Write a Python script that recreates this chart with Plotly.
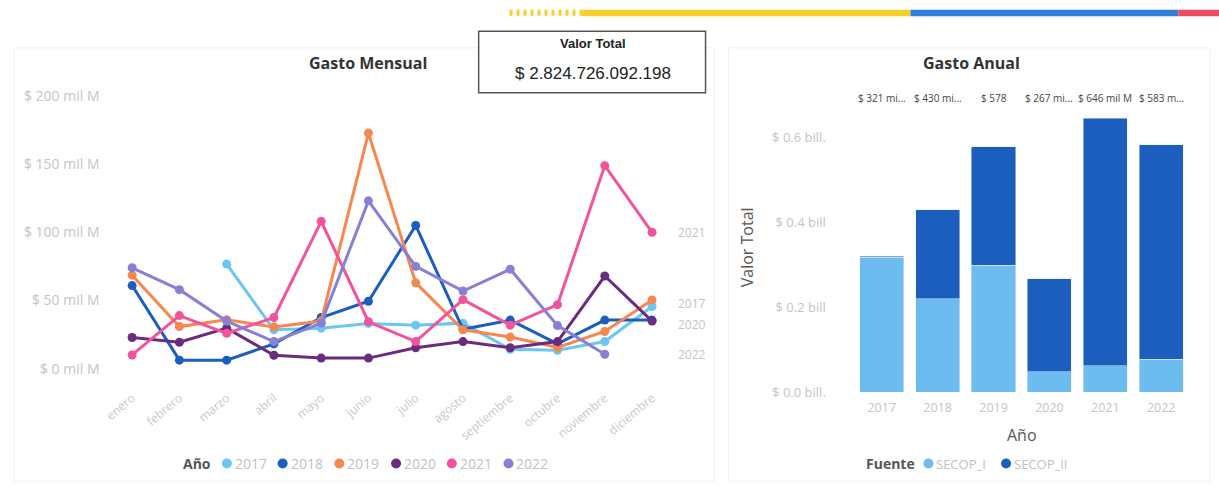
import plotly.graph_objects as go

W, H = 1219, 494

# ---------------- data ----------------
meses = ["enero", "febrero", "marzo", "abril", "mayo", "junio", "julio",
         "agosto", "septiembre", "octubre", "noviembre", "diciembre"]
anios = ["2017", "2018", "2019", "2020", "2021", "2022"]

# Gasto mensual (miles de millones)
v2017 = [None, None, 76.7, 28.6, 29.8, 33.3, 32.0, 33.5, 14.3, 13.6, 20.0, 45.7]
v2018 = [61.0, 6.4, 6.4, 18.3, 37.6, 49.5, 105.0, 29.0, 35.7, 18.3, 35.7, 35.7]
v2019 = [68.6, 31.0, 36.0, 30.7, 35.0, 172.6, 63.0, 28.6, 23.3, 15.7, 27.4, 50.5]
v2020 = [23.0, 19.5, 29.8, 10.0, 7.9, 7.9, 15.5, 20.0, 15.5, 20.0, 68.0, 35.0]
v2021 = [10.2, 39.0, 26.0, 37.6, 108.0, 34.5, 20.0, 50.7, 32.0, 47.0, 148.8, 100.0]
v2022 = [74.0, 58.0, 35.0, 20.0, 33.5, 123.0, 75.0, 57.0, 73.0, 31.7, 10.7, None]

y_ticks_m = [0, 50, 100, 150, 200]
y_text_m = ["$ 0 mil M", "$ 50 mil M", "$ 100 mil M", "$ 150 mil M", "$ 200 mil M"]

# Gasto anual por fuente (miles de millones)
secop_i = [318, 220, 299, 49, 63, 78]
secop_ii = [3, 210, 279, 218, 583, 505]
etiquetas_total = ["$ 321 mi...", "$ 430 mi...", "$ 578", "$ 267 mi...", "$ 646 mil M", "$ 583 m..."]
y_ticks_a = [0, 200, 400, 600]
y_text_a = ["$ 0.0 bill.", "$ 0.2 bill", "$ 0.4 bill", "$ 0.6 bill."]

valor_total = "$ 2.824.726.092.198"

# ---------------- styles ----------------
col_años = {"2017": "#6cc6f4", "2018": "#1b5ebf", "2019": "#f6884f",
            "2020": "#6a2c7f", "2021": "#f2549c", "2022": "#8780d6"}
col_i, col_ii = "#6cbcf0", "#1b5ebd"
FONT = "Open Sans"
GRAY = "#c4c4c4"


def px(x):
    return x / W


def py(y):
    return 1 - y / H


series = {"2017": v2017, "2018": v2018, "2019": v2019,
          "2020": v2020, "2021": v2021, "2022": v2022}

fig = go.Figure()
for a in anios:
    fig.add_trace(go.Scatter(
        x=meses, y=series[a], mode="lines+markers", name=a,
        line=dict(color=col_años[a], width=3),
        marker=dict(color=col_años[a], size=9),
        xaxis="x", yaxis="y", showlegend=False, cliponaxis=False))

fig.add_trace(go.Bar(x=anios, y=secop_i, name="SECOP_I", marker_color=col_i,
                     xaxis="x2", yaxis="y2", showlegend=False))
fig.add_trace(go.Bar(x=anios, y=secop_ii, name="SECOP_II", marker_color=col_ii,
                     xaxis="x2", yaxis="y2", showlegend=False))

# left axes: 0 -> y 375 px, 200 -> y 95 px
ymin, ymax = -8, 205
k = 1.4
fig.update_layout(
    xaxis=dict(domain=[px(103), px(673)], type="category", categoryorder="array",
               categoryarray=meses, range=[-0.5, 11.5], tickangle=-40,
               tickfont=dict(family=FONT, size=12, color="#c8c8c8"),
               showgrid=False, zeroline=False, showline=False, ticks="",
               ticklabelstandoff=8, anchor="y", fixedrange=True),
    yaxis=dict(domain=[py(375 - ymin * k), py(375 - ymax * k)], range=[ymin, ymax],
               tickvals=y_ticks_m, ticktext=y_text_m,
               tickfont=dict(family=FONT, size=14, color=GRAY),
               showgrid=False, zeroline=False, showline=False, ticks="",
               ticklabelstandoff=8, anchor="x"),
    xaxis2=dict(domain=[px(852), px(1189)], type="category", range=[-0.5, 5.5],
                tickfont=dict(family=FONT, size=12.5, color=GRAY),
                showgrid=False, zeroline=False, showline=False, ticks="",
                ticklabelstandoff=6, anchor="y2"),
    yaxis2=dict(domain=[py(399), py(399 - 660 * 0.435)], range=[0, 660],
                tickvals=y_ticks_a, ticktext=y_text_a,
                tickfont=dict(family=FONT, size=13, color=GRAY),
                showgrid=False, zeroline=False, showline=False, ticks="",
                ticklabelstandoff=27, anchor="x2"),
    barmode="stack", bargap=0.21,
    width=W, height=H, margin=dict(l=0, r=0, t=0, b=0),
    paper_bgcolor="white", plot_bgcolor="white",
    font=dict(family=FONT), showlegend=False,
)

ann = []
shapes = []


def text(x, y, s, size, color, bold=False, xanchor="center", family=FONT, **kw):
    ann.append(dict(x=px(x), y=py(y), xref="paper", yref="paper",
                    text=f"<b>{s}</b>" if bold else s, showarrow=False,
                    xanchor=xanchor, yanchor="middle",
                    font=dict(family=family, size=size, color=color), **kw))


# faint panel frames
shapes.append(dict(type="rect", xref="paper", yref="paper", x0=px(8), x1=px(712),
                   y0=py(490), y1=py(46), line=dict(color="#f1f1f1", width=1), layer="below"))
shapes.append(dict(type="rect", xref="paper", yref="paper", x0=px(726), x1=px(1210),
                   y0=py(490), y1=py(46), line=dict(color="#f1f1f1", width=1), layer="below"))

# top flag bar
shapes.append(dict(type="line", xref="paper", yref="paper", x0=px(506), x1=px(579),
                   y0=py(10), y1=py(10), line=dict(color="#f7cf2d", width=6, dash="3px,4px")))
shapes.append(dict(type="rect", xref="paper", yref="paper", x0=px(579), x1=px(909),
                   y0=py(13.5), y1=py(7), line=dict(width=0), fillcolor="#f7cf2d"))
shapes.append(dict(type="rect", xref="paper", yref="paper", x0=px(909), x1=px(1178),
                   y0=py(13.5), y1=py(7), line=dict(width=0), fillcolor="#2f80d8"))
shapes.append(dict(type="rect", xref="paper", yref="paper", x0=px(1178), x1=px(1219),
                   y0=py(13.5), y1=py(7), line=dict(width=0), fillcolor="#ec4c60"))

# Valor Total card
shapes.append(dict(type="rect", xref="paper", yref="paper", x0=px(475), x1=px(703),
                   y0=py(92), y1=py(29), line=dict(color="#555555", width=1.5),
                   fillcolor="white"))
text(590, 42, "Valor Total", 13, "#222222", bold=True, family="Liberation Sans")
text(590, 72, valor_total, 17, "#222222", family="Liberation Sans")

# titles
text(364, 62, "Gasto Mensual", 16, "#333333", bold=True)
text(970, 62, "Gasto Anual", 16, "#333333", bold=True)

# end-of-line labels
end_labels = [("2021", v2021[11], 0), ("2017", v2017[11], 3),
              ("2020", v2020[11], -3), ("2022", v2022[10], 0)]
for lab, val, sh in end_labels:
    ann.append(dict(x=px(673), y=val, xref="paper", yref="y", text=lab, showarrow=False,
                    xanchor="left", yanchor="middle", yshift=sh,
                    font=dict(family=FONT, size=12, color=GRAY)))

# total labels above bars
for i, t in enumerate(etiquetas_total):
    ann.append(dict(x=i, y=py(97), xref="x2", yref="paper", text=t, showarrow=False,
                    xanchor="center", yanchor="middle",
                    font=dict(family=FONT, size=10, color="#444444")))

# axis titles (right chart)
text(745, 250, "Valor Total", 16, "#555555", textangle=-90)
text(1021, 443, "Año", 16, "#555555")


def legend_item(cx, cy, color, label, lsize):
    shapes.append(dict(type="circle", xref="paper", yref="paper",
                       xsizemode="pixel", ysizemode="pixel",
                       xanchor=px(cx), yanchor=py(cy), x0=-5, x1=5, y0=-5, y1=5,
                       fillcolor=color, line=dict(width=0)))
    text(cx + 6, cy, label, lsize, "#c2c2c2", xanchor="left")


# legend Año
text(176, 472, "Año", 14, "#555555", bold=True, xanchor="left")
for a, cx in zip(anios, [222, 278, 335, 392, 448, 505]):
    legend_item(cx, 472, col_años[a], a, 14)

# legend Fuente
text(862, 472, "Fuente", 14, "#555555", bold=True, xanchor="left")
legend_item(927, 472, col_i, "SECOP_I", 13)
legend_item(1005, 472, col_ii, "SECOP_II", 13)

fig.update_layout(annotations=ann, shapes=shapes)
fig.write_html("out.html", config={"displayModeBar": False},
               post_script="document.body.style.margin='0px';")
